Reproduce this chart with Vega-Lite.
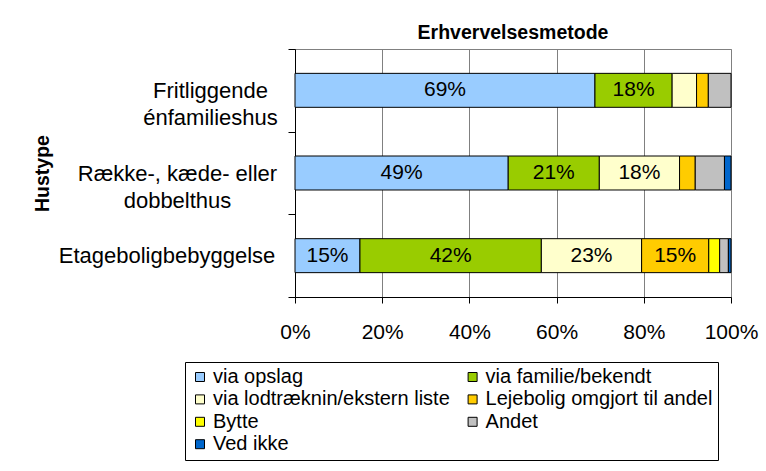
{
  "$schema": "https://vega.github.io/schema/vega-lite/v6.json",
  "width": 436,
  "height": 248,
  "autosize": {"type": "none"},
  "padding": {"left": 295, "top": 49, "right": 35, "bottom": 174},
  "background": "white",
  "config": {
    "font": "Liberation Sans",
    "view": {"stroke": "#808080", "strokeWidth": 1},
    "axis": {"domainColor": "black", "tickColor": "black", "labelColor": "black", "titleColor": "black", "labelFont": "Liberation Sans", "titleFont": "Liberation Sans"}
  },
  "title": {"text": "Erhvervelsesmetode", "fontSize": 19.5, "fontWeight": "bold", "font": "Liberation Sans", "color": "black", "anchor": "middle", "frame": "group", "baseline": "alphabetic", "offset": 12, "dy": 32},
  "data": {
    "values": [
      {"hustype": "Fritliggende|énfamilieshus", "metode": "via opslag", "pct": 68.8},
      {"hustype": "Fritliggende|énfamilieshus", "metode": "via familie/bekendt", "pct": 17.7},
      {"hustype": "Fritliggende|énfamilieshus", "metode": "via lodtræknin/ekstern liste", "pct": 5.6},
      {"hustype": "Fritliggende|énfamilieshus", "metode": "Lejebolig omgjort til andel", "pct": 2.7},
      {"hustype": "Fritliggende|énfamilieshus", "metode": "Andet", "pct": 5.2},
      {"hustype": "Række-, kæde- eller|dobbelthus", "metode": "via opslag", "pct": 48.9},
      {"hustype": "Række-, kæde- eller|dobbelthus", "metode": "via familie/bekendt", "pct": 20.9},
      {"hustype": "Række-, kæde- eller|dobbelthus", "metode": "via lodtræknin/ekstern liste", "pct": 18.4},
      {"hustype": "Række-, kæde- eller|dobbelthus", "metode": "Lejebolig omgjort til andel", "pct": 3.6},
      {"hustype": "Række-, kæde- eller|dobbelthus", "metode": "Andet", "pct": 6.7},
      {"hustype": "Række-, kæde- eller|dobbelthus", "metode": "Ved ikke", "pct": 1.5},
      {"hustype": "Etageboligbebyggelse", "metode": "via opslag", "pct": 14.9},
      {"hustype": "Etageboligbebyggelse", "metode": "via familie/bekendt", "pct": 41.6},
      {"hustype": "Etageboligbebyggelse", "metode": "via lodtræknin/ekstern liste", "pct": 23.0},
      {"hustype": "Etageboligbebyggelse", "metode": "Lejebolig omgjort til andel", "pct": 15.4},
      {"hustype": "Etageboligbebyggelse", "metode": "Bytte", "pct": 2.5},
      {"hustype": "Etageboligbebyggelse", "metode": "Andet", "pct": 2.0},
      {"hustype": "Etageboligbebyggelse", "metode": "Ved ikke", "pct": 0.6}
    ]
  },
  "transform": [
    {"calculate": "indexof(['via opslag','via familie/bekendt','via lodtræknin/ekstern liste','Lejebolig omgjort til andel','Bytte','Andet','Ved ikke'], datum.metode)", "as": "ord"},
    {"stack": "pct", "groupby": ["hustype"], "sort": [{"field": "ord", "order": "ascending"}], "as": ["x0", "x1"]},
    {"calculate": "(datum.x0 + datum.x1) / 2", "as": "mid"},
    {"calculate": "format(datum.pct, '.0f') + '%'", "as": "lab"}
  ],
  "layer": [
    {
      "mark": {"type": "bar", "stroke": "black", "strokeWidth": 1, "height": {"band": 0.411}},
      "encoding": {
        "y": {
          "field": "hustype", "type": "nominal",
          "scale": {"domain": ["Fritliggende|énfamilieshus", "Række-, kæde- eller|dobbelthus", "Etageboligbebyggelse"], "paddingInner": 0, "paddingOuter": 0},
          "title": "Hustype",
          "axis": {
            "tickBand": "extent",
            "tickSize": 7,
            "labelAlign": "center",
            "labelBaseline": "middle",
            "labelFontSize": 22,
            "labelLineHeight": 27,
            "labelLimit": 0,
            "labelExpr": "split(datum.label, '|')",
            "labelPadding": {"condition": [{"test": "datum.value === 'Etageboligbebyggelse'", "value": 121.5}, {"test": "datum.value === 'Fritliggende|énfamilieshus'", "value": 78}], "value": 111},
            "titleFontSize": 19.5,
            "titleFontWeight": "bold",
            "titleAngle": -90,
            "titleAlign": "center",
            "titleBaseline": "alphabetic",
            "titleX": -246.5,
            "titleY": 124
          }
        },
        "x": {
          "field": "x0", "type": "quantitative",
          "scale": {"domain": [0, 100], "nice": false},
          "title": null,
          "axis": {"values": [0, 20, 40, 60, 80, 100], "labelExpr": "datum.value + '%'", "grid": true, "gridColor": "#808080", "tickSize": 6, "labelFontSize": 21, "labelPadding": 18, "labelFlush": false, "labelOverlap": false}
        },
        "x2": {"field": "x1"},
        "color": {
          "field": "metode", "type": "nominal",
          "scale": {
            "domain": ["via opslag", "via familie/bekendt", "via lodtræknin/ekstern liste", "Lejebolig omgjort til andel", "Bytte", "Andet", "Ved ikke"],
            "range": ["#99CCFF", "#99CC00", "#FFFFCC", "#FFCC00", "#FFFF00", "#C0C0C0", "#0066CC"]
          },
          "legend": {
            "orient": "none", "legendX": -110, "legendY": 313,
            "direction": "horizontal",
            "columns": 2, "title": null,
            "symbolType": "square", "symbolSize": 81, "symbolStrokeColor": "black", "symbolStrokeWidth": 1, "symbolOpacity": 1,
            "labelFontSize": 20, "labelOffset": 3, "labelLimit": 0, "labelColor": "black",
            "columnPadding": 12.6, "rowPadding": 2.4, "padding": 5,
            "strokeColor": "black", "fillColor": "white"
          }
        }
      }
    },
    {
      "transform": [{"filter": "datum.pct >= 10"}],
      "mark": {"type": "text", "fontSize": 21, "color": "black", "baseline": "middle", "align": "center"},
      "encoding": {
        "y": {"field": "hustype", "type": "nominal"},
        "x": {"field": "mid", "type": "quantitative"},
        "text": {"field": "lab"}
      }
    }
  ]
}
